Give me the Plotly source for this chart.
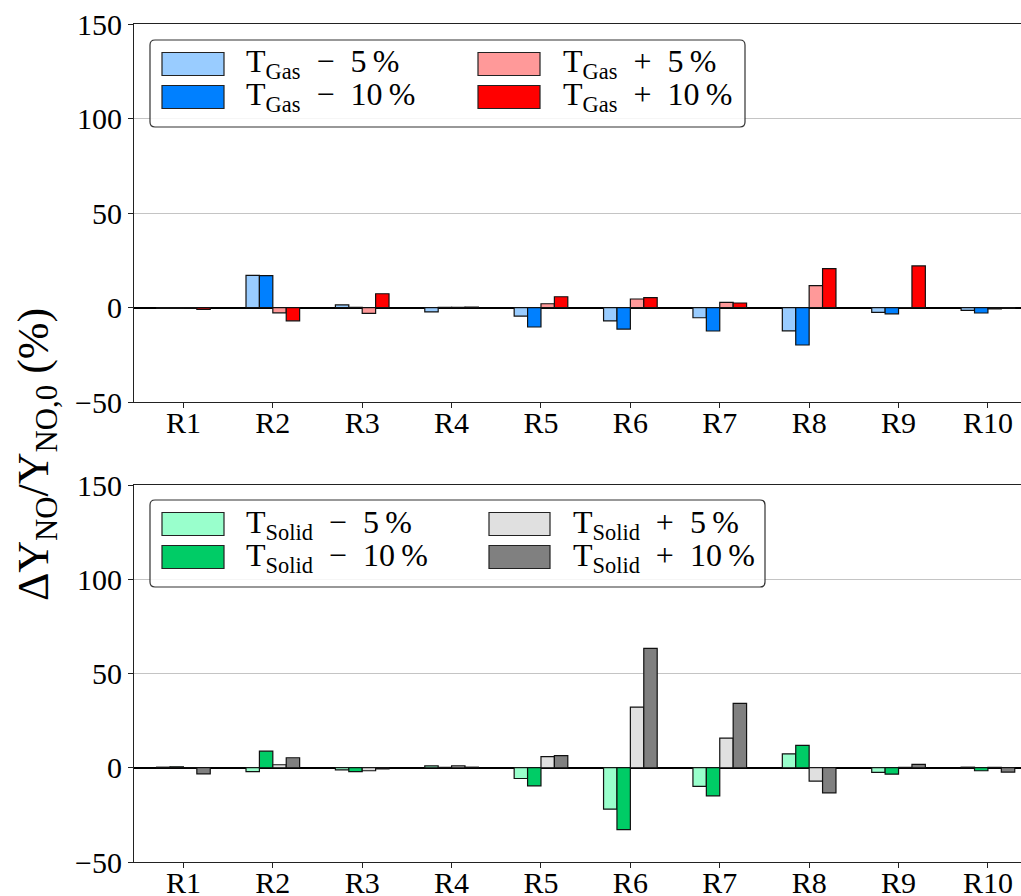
import plotly.graph_objects as go
from plotly.subplots import make_subplots

categories = ["R1", "R2", "R3", "R4", "R5", "R6", "R7", "R8", "R9", "R10"]

gas_minus5 = [-0.3, 17.1, 1.5, -2.2, -4.4, -7.0, -5.3, -12.2, -2.5, -1.4]
gas_minus10 = [-0.3, 17.0, 0.2, 0.2, -10.2, -11.3, -12.3, -19.7, -3.2, -2.8]
gas_plus5 = [-0.2, -2.7, -3.0, 0.2, 2.1, 4.6, 2.8, 11.7, 0.1, -0.6]
gas_plus10 = [-0.9, -6.9, 7.4, 0.3, 5.8, 5.3, 2.5, 20.7, 22.1, -0.4]

solid_minus5 = [0.3, -2.1, -1.1, 1.0, -5.7, -22.0, -9.9, 7.4, -2.5, 0.3]
solid_minus10 = [0.5, 8.8, -2.1, 0.2, -9.6, -32.8, -14.9, 11.9, -3.4, -1.6]
solid_plus5 = [0.0, 1.6, -1.6, 1.0, 5.9, 32.2, 15.7, -7.1, 0.2, 0.2]
solid_plus10 = [-3.2, 5.3, -0.6, 0.3, 6.4, 63.3, 34.2, -13.3, 1.8, -2.3]

y_ticks = [-50, 0, 50, 100, 150]

SP = "\u2002"
gas_series = [
    (f"T<sub>Gas</sub>{SP}\u2212{SP}5\u2009%", gas_minus5, "#99ccff"),
    (f"T<sub>Gas</sub>{SP}\u2212{SP}10\u2009%", gas_minus10, "#0080ff"),
    (f"T<sub>Gas</sub>{SP}+{SP}5\u2009%", gas_plus5, "#ff9999"),
    (f"T<sub>Gas</sub>{SP}+{SP}10\u2009%", gas_plus10, "#ff0000"),
]
solid_series = [
    (f"T<sub>Solid</sub>{SP}\u2212{SP}5\u2009%", solid_minus5, "#99ffcc"),
    (f"T<sub>Solid</sub>{SP}\u2212{SP}10\u2009%", solid_minus10, "#00cc66"),
    (f"T<sub>Solid</sub>{SP}+{SP}5\u2009%", solid_plus5, "#e0e0e0"),
    (f"T<sub>Solid</sub>{SP}+{SP}10\u2009%", solid_plus10, "#808080"),
]

W, H = 1021, 896
ML, MR, MT, MB = 134, 0, 24, 34
PW, PH = W - ML - MR, H - MT - MB
FONT = "Liberation Serif"

top_dom = [(862 - 402.3) / PH, 1.0]
bot_dom = [0.0, (862 - 485) / PH]

fig = make_subplots(rows=2, cols=1, shared_xaxes=False, vertical_spacing=0.1)

for row, series in ((1, gas_series), (2, solid_series)):
    for name, vals, col in series:
        fig.add_trace(
            go.Bar(
                x=categories, y=vals, name=name, showlegend=False,
                marker=dict(color=col, line=dict(color="#111111", width=1.2)),
            ),
            row=row, col=1,
        )

fig.update_layout(
    width=W, height=H, barmode="group", bargap=0.4, bargroupgap=0,
    margin=dict(l=ML, r=MR, t=MT, b=MB, autoexpand=False),
    plot_bgcolor="white", paper_bgcolor="white",
    font=dict(family=FONT, size=30, color="black"),
)

axis_common = dict(
    showline=True, linecolor="#222222", linewidth=1.2, mirror=True,
    ticks="outside", ticklen=5, tickwidth=1, tickcolor="#222222",
    tickfont=dict(family=FONT, size=30, color="black"),
)
for ax in ("xaxis", "xaxis2"):
    fig.layout[ax].update(
        type="category", range=[-0.553, 9.37], showgrid=False, zeroline=False,
        tickvals=categories, ticktext=categories, ticklabelstandoff=-11, **axis_common,
    )
fig.layout.yaxis.update(domain=top_dom)
fig.layout.yaxis2.update(domain=bot_dom)
for ax in ("yaxis", "yaxis2"):
    fig.layout[ax].update(
        range=[-50, 150], tickvals=y_ticks, showgrid=True, gridcolor="#c4c4c4",
        gridwidth=1, zeroline=True, zerolinecolor="black", zerolinewidth=1.8,
        layer="above traces", **axis_common,
    )


def px_x(p):
    return (p - ML) / PW


def px_y(p):
    return (H - MB - p) / PH


def rounded_box(x0, y0, x1, y1, r=5):
    X0, X1 = px_x(x0), px_x(x1)
    Y0, Y1 = px_y(y0), px_y(y1)
    rx, ry = r / PW, r / PH
    return (
        f"M {X0+rx},{Y0} L {X1-rx},{Y0} Q {X1},{Y0} {X1},{Y0-ry} "
        f"L {X1},{Y1+ry} Q {X1},{Y1} {X1-rx},{Y1} L {X0+rx},{Y1} "
        f"Q {X0},{Y1} {X0},{Y1+ry} L {X0},{Y0-ry} Q {X0},{Y0} {X0+rx},{Y0} Z"
    )


def add_legend(series, box, rows_y, col_patch_x, col_text_x):
    fig.add_shape(type="path", path=rounded_box(*box), xref="paper", yref="paper",
                  line=dict(color="#333333", width=1.2), fillcolor="rgba(255,255,255,0.85)")
    order = [(0, 0), (1, 0), (0, 1), (1, 1)]  # (row, col) for -5, -10, +5, +10
    for (name, _, col), (r, c) in zip(series, order):
        yc = rows_y[r]
        px0, px1 = col_patch_x[c]
        fig.add_shape(type="rect", xref="paper", yref="paper",
                      x0=px_x(px0), x1=px_x(px1), y0=px_y(yc - 11.5), y1=px_y(yc + 11.5),
                      fillcolor=col, line=dict(color="#222222", width=1.2))
        fig.add_annotation(x=px_x(col_text_x[c]), y=px_y(yc), xref="paper", yref="paper",
                           text=name, showarrow=False, xanchor="left", yanchor="middle",
                           font=dict(family=FONT, size=32, color="black"))


add_legend(gas_series, (150, 40, 745, 127), (64, 97), ((162, 224), (478, 540)), (244, 561))
add_legend(solid_series, (150, 500, 765, 587), (524, 557), ((162, 224), (489, 550)), (244, 571))

fig.add_annotation(
    x=px_x(36), y=px_y(455), xref="paper", yref="paper", showarrow=False,
    text="\u0394Y<sub>NO</sub>/Y<sub>NO,0</sub> (%)", textangle=-90,
    xanchor="center", yanchor="middle", font=dict(family=FONT, size=44, color="black"),
)

fig.write_html("out.html")
